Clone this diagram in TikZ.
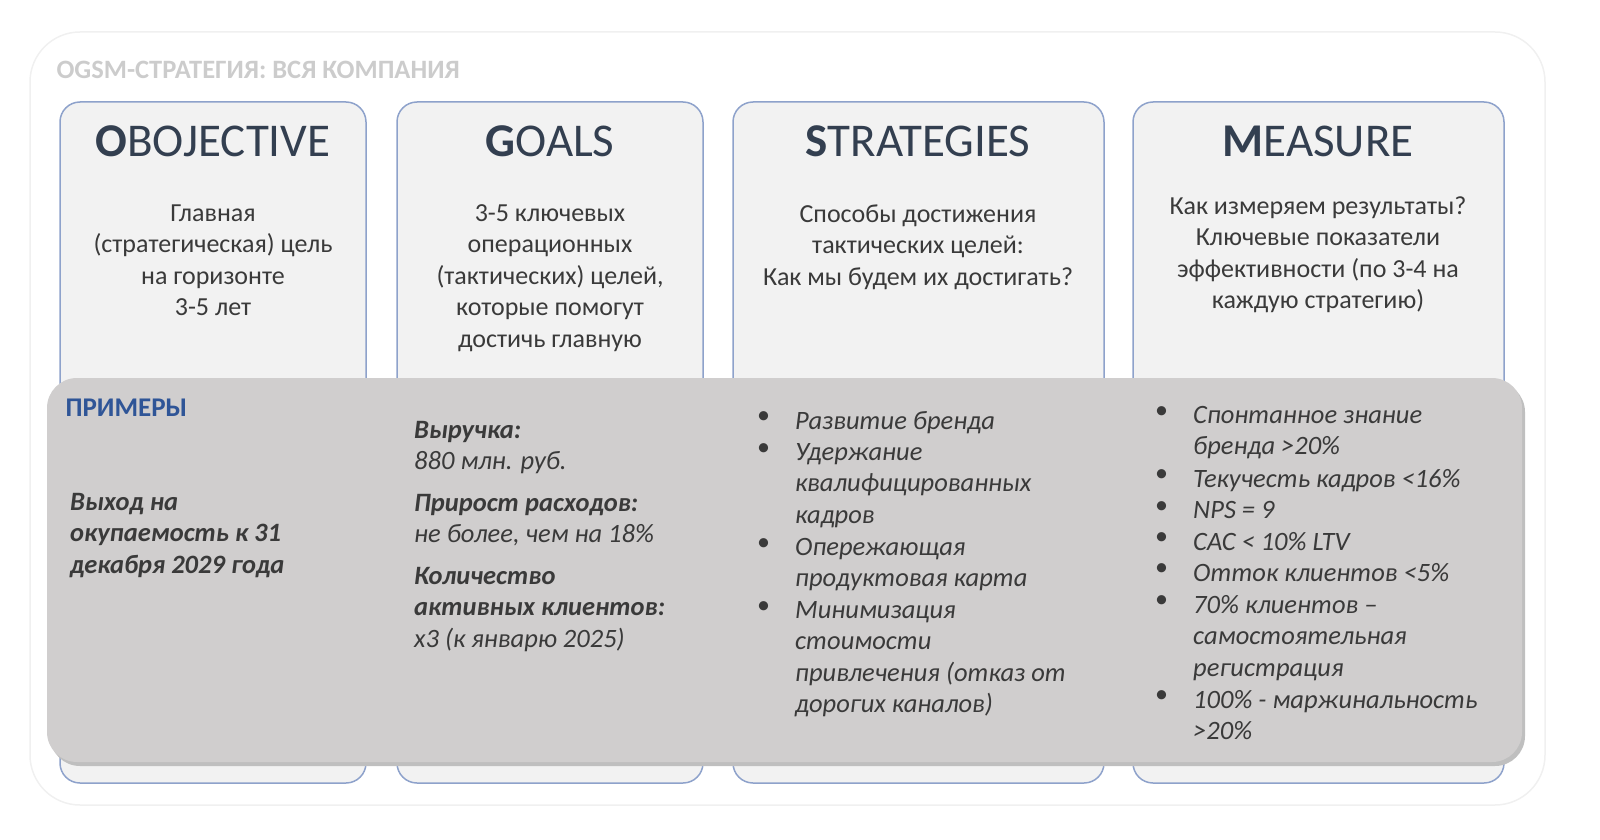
\documentclass[tikz,border=0pt]{standalone}
\usepackage{fontspec}
\setmainfont{Carlito}
\definecolor{txt}{HTML}{3A3A3A}
\definecolor{head}{HTML}{333F50}
\definecolor{frame}{HTML}{8EA2CB}
\definecolor{panel}{HTML}{F2F2F2}
\definecolor{band}{HTML}{D0CECE}
\definecolor{blue}{HTML}{2F5597}
\tikzset{
  col/.style={draw=frame,line width=1.5pt,fill=panel,rounded corners=20pt},
  hd/.style={text=head,font=\fontsize{47}{49}\selectfont,anchor=center},
  desc/.style={text=txt,font=\fontsize{26}{31.5}\selectfont,align=center,anchor=north},
  ex/.style={text=txt,font=\fontsize{26.5}{31.5}\selectfont\itshape,align=left,anchor=north west,inner sep=0pt},
  dot/.style={text=txt,font=\fontsize{26}{31.5}\selectfont,anchor=north west,inner sep=0pt}
}
\begin{document}
\begin{tikzpicture}[x=1pt,y=-1pt]
        \useasboundingbox(0,0)rectangle(1600,840);
        \draw[draw=black!6,line width=1.5pt,rounded corners=50pt](30,32)rectangle(1545,805);
        \node[anchor=west,text=black!20,font=\fontsize{26.5}{28}\selectfont\bfseries](title)at(53,70){OGSM-СТРАТЕГИЯ: ВСЯ КОМПАНИЯ};

        % columns
        \draw[col](60,102)rectangle(366,783);
        \draw[col](397,102)rectangle(703,783);
        \draw[col](733,102)rectangle(1104,783);
        \draw[col](1133,102)rectangle(1504,783);

        \node[hd](h1)at(213,141){\textbf{O}BOJECTIVE};
        \node[hd](h2)at(550,141){\textbf{G}OALS};
        \node[hd](h3)at(918,141){\textbf{S}TRATEGIES};
        \node[hd](h4)at(1318,141){\textbf{M}EASURE};

        \node[desc](d1)at(213,201){Главная\\(стратегическая) цель\\на горизонте\\3-5 лет};
        \node[desc](d2)at(550,201){3-5 ключевых\\операционных\\(тактических) целей,\\которые помогут\\достичь главную};
        \node[desc](d3)at(918,201){Способы достижения\\тактических целей:\\Как мы будем их достигать?};
        \node[desc](d4)at(1318,193){Как измеряем результаты?\\Ключевые показатели\\эффективности (по 3-4 на\\каждую стратегию)};

        % examples
        \fill[black!25,rounded corners=30pt](50,382)rectangle(1525,766);
        \fill[band,rounded corners=30pt](47,378)rectangle(1522,762);
        \node[anchor=west,text=blue,font=\fontsize{27}{28}\selectfont\bfseries](ex)at(62,408){ПРИМЕРЫ};

        \node[ex](e1)at(70,493){\bfseries Выход на\\\bfseries окупаемость к 31\\\bfseries декабря 2029 года};
        \node[ex](e2)at(414,421){\bfseries Выручка:\\880 млн. руб.};
        \node[ex](e3)at(414,494){\bfseries Прирост расходов:\\не более, чем на 18\%};
        \node[ex](e4)at(414,567){\bfseries Количество\\\bfseries активных клиентов:\\х3 (к январю 2025)};

        \foreach \y/\t [count=\i] in {411/Развитие бренда,443/{Удержание\\квалифицированных\\кадров},538/{Опережающая\\продуктовая карта},601/{Минимизация\\стоимости\\привлечения (отказ от\\дорогих каналов)}}{
          \node[dot](sb\i)at(757,\y){•};
          \node[ex](s\i)at(795,\y){\t};
        }
        \foreach \y/\t [count=\i] in {406/{Спонтанное знание\\бренда >20\%},469/Текучесть кадров <16\%,501/NPS = 9,532/CAC < 10\% LTV,563/Отток клиентов <5\%,595/{70\% клиентов –\\самостоятельная\\регистрация},690/{100\% - маржинальность\\>20\%}}{
          \node[dot](mb\i)at(1155,\y){•};
          \node[ex](m\i)at(1193,\y){\t};
        }
\end{tikzpicture}
\end{document}
